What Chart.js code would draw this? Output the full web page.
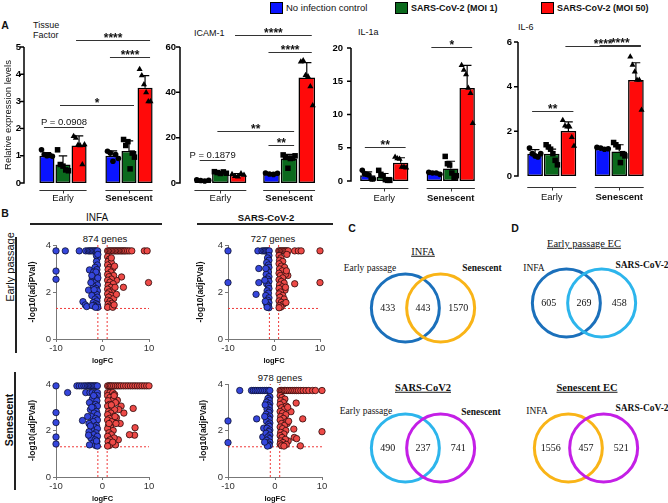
<!DOCTYPE html>
<html>
<head>
<meta charset="utf-8">
<title>SARS-CoV-2 endothelial response</title>
<script src="https://cdn.jsdelivr.net/npm/chart.js@4.4.1/dist/chart.umd.min.js"></script>
<style>
  html, body { margin: 0; padding: 0; background: #fff; }
  #fig { position: relative; width: 668px; height: 503px; overflow: hidden; font-family: "Liberation Sans", Arial, sans-serif; color: #111; }
  #fig canvas { position: absolute; }
  .t { position: absolute; white-space: nowrap; transform: translate(-50%, -50%); line-height: 1; }
  .l { transform: translate(0, -50%); }
  .b { font-weight: bold; }
  .serif { font-family: "Liberation Serif", "Times New Roman", serif; }
  .u { text-decoration: underline; }
  .rot { transform: translate(-50%, -50%) rotate(-90deg); }
  .sw { position: absolute; width: 13px; height: 12px; border: 1px solid #000; box-sizing: border-box; }
  .hl { position: absolute; background: #222; }
</style>
</head>
<body>
<div id="fig">
  <!-- panel letters -->
  <div class="t b" style="left:5px;top:25px;font-size:10.5px">A</div>
  <div class="t b" style="left:5px;top:213px;font-size:10.5px">B</div>
  <div class="t b" style="left:352px;top:228px;font-size:10.5px">C</div>
  <div class="t b" style="left:515px;top:228px;font-size:10.5px">D</div>

  <!-- A: chart titles -->
  <div class="t l" style="left:33px;top:25px;font-size:9px">Tissue</div>
  <div class="t l" style="left:33px;top:35px;font-size:9px">Factor</div>
  <div class="t l" style="left:194px;top:33px;font-size:9px">ICAM-1</div>
  <div class="t l" style="left:358px;top:32px;font-size:9px">IL-1a</div>
  <div class="t l" style="left:518px;top:27px;font-size:9px">IL-6</div>

  <!-- B: headers -->
  <div class="t" style="left:97px;top:218px;font-size:10px">INFA</div>
  <div class="hl" style="left:30px;top:223px;width:132px;height:2px"></div>
  <div class="t b" style="left:266px;top:218px;font-size:9.5px">SARS-CoV-2</div>
  <div class="hl" style="left:197px;top:223px;width:136px;height:2px"></div>
  <div class="t rot" style="left:10px;top:267px;font-size:11px">Early passage</div>
  <div class="hl" style="left:15px;top:237px;width:2px;height:116px"></div>
  <div class="t rot b" style="left:9px;top:420px;font-size:10.5px">Senescent</div>
  <div class="hl" style="left:14px;top:372px;width:2px;height:118px"></div>
  <div class="t" style="left:105px;top:239px;font-size:9.5px">874 genes</div>
  <div class="t" style="left:273px;top:239px;font-size:9.5px">727 genes</div>
  <div class="t" style="left:280px;top:378px;font-size:9.5px">978 genes</div>

  <!-- C / D: venn labels -->
  <div class="t serif u" style="left:423px;top:252px;font-size:10.5px">INFA</div>
  <div class="t serif" style="left:370px;top:269px;font-size:9.5px">Early passage</div>
  <div class="t serif b" style="left:482px;top:269px;font-size:9.5px">Senescent</div>
  <div class="t serif u" style="left:584px;top:244px;font-size:10.5px">Early passage EC</div>
  <div class="t serif" style="left:534px;top:269px;font-size:9.5px">INFA</div>
  <div class="t serif b" style="left:642px;top:266px;font-size:9.5px">SARS-CoV-2</div>
  <div class="t serif b u" style="left:423px;top:388px;font-size:10.5px">SARS-CoV2</div>
  <div class="t serif" style="left:366px;top:412px;font-size:9.5px">Early passage</div>
  <div class="t serif b" style="left:481px;top:413px;font-size:9.5px">Senescent</div>
  <div class="t serif b u" style="left:587px;top:388px;font-size:10.5px">Senescent EC</div>
  <div class="t serif" style="left:537px;top:412px;font-size:9.5px">INFA</div>
  <div class="t serif b" style="left:642px;top:409px;font-size:9.5px">SARS-CoV-2</div>
</div>

<script>
// ---------- bar panels (A) ----------
const groups = ['Early', 'Senescent'];
const seriesNames = ['No infection control', 'SARS-CoV-2 (MOI 1)', 'SARS-CoV-2 (MOI 50)'];
const seriesColors = ['#0a14ff', '#0b6a1d', '#ff0a0a'];
const seriesShapes = ['circle', 'rect', 'triangle'];
const pointSizes = [2.8, 3.9, 3.5];

// values are [series][group]
const tfMeans = [[1.0, 1.0], [0.68, 1.18], [1.38, 3.5]];
const tfSd = [[0.12, 0.18], [0.32, 0.37], [0.35, 0.45]];
const tfPoints = [
  [[1.22, 1.05, 1.0, 1.02, 0.98], [1.17, 1.1, 0.8, 1.05, 0.9]],
  [[1.22, 0.68, 0.62, 0.48, 0.45], [1.6, 1.38, 1.52, 0.52, 1.1, 0.95]],
  [[1.72, 1.65, 1.4, 1.38, 0.68, 1.42], [4.18, 3.95, 3.62, 3.33, 3.0, 3.0]]
];
// [fromSeries, fromGroup, toSeries, toGroup, height, label]
const tfSig = [[2, 0, 2, 1, 5.26, '****'], [0, 1, 2, 1, 4.63, '****'], [1, 0, 1, 1, 2.87, '*'], [0, 0, 2, 0, 2.06, 'P = 0.0908']];

const icMeans = [[1.1, 4.1], [4.6, 10.8], [3.5, 46.5]];
const icSd = [[0.3, 0.3], [0.4, 1.8], [0.6, 6.6]];
const icPoints = [
  [[1.4, 1.1, 0.9, 1.2], [4.4, 4.0, 3.8, 4.3]],
  [[5.0, 4.6, 4.2, 4.9, 4.3], [12.4, 11.3, 6.5, 10.8, 11.0, 12.0]],
  [[3.9, 3.0, 2.8, 4.2, 3.5], [53.5, 54.0, 47.5, 47.0, 42.6, 34.2]]
];
const icSig = [[2, 0, 2, 1, 65.3, '****'], [0, 1, 2, 1, 57.8, '****'], [1, 0, 1, 1, 22.9, '**'], [0, 1, 1, 1, 16.8, '**'], [0, 0, 1, 0, 10.1, 'P = 0.1879']];

const il1Means = [[0.87, 1.2], [0.63, 1.87], [2.75, 14.0]];
const il1Sd = [[0.5, 0.15], [0.5, 1.1], [0.75, 3.4]];
const il1Points = [
  [[1.6, 1.1, 1.0, 0.9, 0.3, 0.3], [1.3, 1.2, 1.2, 1.0]],
  [[1.6, 1.0, 0.8, 0.2, 0.1, 0.1], [3.7, 2.6, 2.4, 1.2, 0.5, 0.8]],
  [[3.6, 3.4, 3.3, 2.1, 2.1, 2.0], [17.4, 16.7, 16.0, 14.0, 13.2, 8.7]]
];
const il1Sig = [[0, 1, 2, 1, 20.1, '*'], [0, 0, 2, 0, 5.1, '**']];

const il6Means = [[1.0, 1.22], [1.0, 1.1], [2.02, 4.3]];
const il6Sd = [[0.18, 0.05], [0.2, 0.3], [0.4, 0.77]];
const il6Points = [
  [[1.25, 1.0, 0.9, 0.85, 1.0], [1.28, 1.25, 1.2, 1.22]],
  [[1.4, 1.3, 1.2, 1.0, 0.7, 0.5], [1.5, 1.4, 1.3, 0.6, 1.0, 0.9]],
  [[2.5, 2.25, 2.2, 2.2, 1.73, 1.34], [5.34, 4.97, 4.67, 4.3, 4.3, 2.95]]
];
const il6Sig = [[0, 0, 2, 0, 2.91, '**'], [2, 0, 2, 1, 5.82, '****'], [0, 1, 2, 1, 5.87, '****']];

// ---------- volcano panels (B): [logFC, -log10(adj p)] ----------
const fcCut = [-1, 1];
const padjCut = 1.3;

const earlyInfaDown = [[-10,3.75],[-8,3.75],[-5,3.75],[-3.6,3.75],[-3.1,3.75],[-2.8,3.75],[-2.5,3.75],[-2.2,3.75],[-1.9,3.75],[-1.6,3.75],[-1.3,3.75],[-1.05,3.75],
  [-10,2.89],[-10,2.54],[-2.8,2.94],[-3.0,2.08],[-4.2,1.59],[-3.7,1.45],[-3.4,1.38],
  [-1.1,3.45],[-1.3,3.3],[-1.1,3.15],[-1.6,3.05],[-1.2,2.95],[-1.9,2.85],[-1.1,2.75],[-1.5,2.65],[-2.2,2.55],[-1.2,2.5],[-1.7,2.4],[-1.1,2.3],[-2.0,2.25],
  [-1.4,2.15],[-1.1,2.05],[-1.8,1.95],[-1.3,1.9],[-2.3,1.85],[-1.1,1.78],[-1.6,1.7],[-1.2,1.62],[-2.0,1.55],[-1.4,1.5],[-1.1,1.45],[-1.7,1.4],[-2.2,1.42],
  [-1.3,3.55],[-1.0,3.6],[-1.4,2.85],[-1.0,2.6],[-1.8,2.1],[-1.0,1.35],[-1.5,1.35],[-2.5,2.4],[-2.3,2.7]];
const earlyInfaUp = [[1.1,3.75],[1.4,3.75],[1.7,3.75],[2.0,3.75],[2.3,3.75],[2.6,3.75],[2.9,3.75],[3.2,3.75],[3.5,3.75],[3.8,3.75],[4.1,3.75],[4.4,3.75],
  [4.7,3.75],[5.0,3.75],[5.4,3.75],[5.8,3.75],[6.3,3.75],[9.0,3.75],[9.6,3.75],
  [4.1,2.64],[4.5,2.2],[9.9,2.4],[3.0,2.5],
  [1.1,3.5],[1.5,3.4],[1.2,3.3],[1.9,3.25],[1.1,3.15],[1.6,3.05],[2.2,3.0],[1.2,2.95],[1.8,2.85],[1.1,2.75],[2.4,2.7],[1.4,2.65],[1.9,2.55],[1.1,2.5],
  [1.6,2.42],[2.3,2.35],[1.2,2.28],[1.8,2.2],[1.1,2.12],[2.1,2.05],[1.4,2.0],[1.1,1.92],[1.8,1.85],[1.3,1.78],[2.4,1.72],[1.1,1.65],[1.6,1.6],[2.0,1.52],
  [1.2,1.48],[1.5,1.4],[1.1,1.35],[2.2,1.35],[1.9,3.45],[2.6,3.1],[2.7,2.2],[3.0,1.9],[2.5,1.45]];

const earlySarsDown = [[-10,3.75],[-3.5,3.75],[-2.6,3.75],[-2.2,3.75],[-1.9,3.75],[-1.6,3.75],[-1.3,3.75],[-1.05,3.75],
  [-10,2.4],[-3.3,2.4],[-3.9,1.9],[-3.3,3.0],
  [-1.1,3.55],[-1.4,3.45],[-1.1,3.35],[-1.6,3.25],[-1.2,3.15],[-1.1,3.05],[-1.5,2.95],[-1.2,2.85],[-1.7,2.75],[-1.1,2.65],[-1.4,2.55],[-1.1,2.45],
  [-1.6,2.35],[-1.2,2.25],[-1.1,2.15],[-1.5,2.05],[-1.2,1.95],[-1.8,1.85],[-1.1,1.75],[-1.4,1.65],[-1.1,1.55],[-1.6,1.48],[-1.2,1.4],[-1.1,1.33],
  [-1.5,1.35],[-1.9,1.6],[-2.0,2.5],[-1.8,3.0]];
const earlySarsUp = [[1.05,3.75],[1.3,3.75],[1.6,3.75],[1.9,3.75],[2.2,3.75],[2.5,3.75],[2.8,3.75],[3.1,3.75],[4.5,3.75],[5.3,3.75],[5.9,3.75],[10,3.75],
  [10,2.4],[4.5,2.35],[2.8,3.6],[3.0,2.7],
  [1.1,3.55],[1.5,3.45],[1.2,3.35],[1.9,3.3],[1.1,3.2],[1.6,3.1],[2.3,3.05],[1.2,2.98],[1.8,2.9],[1.1,2.8],[2.5,2.75],[1.4,2.7],[1.9,2.6],[1.1,2.52],
  [1.6,2.45],[2.2,2.38],[1.2,2.3],[1.8,2.22],[1.1,2.15],[2.4,2.08],[1.4,2.0],[1.1,1.92],[1.9,1.85],[1.3,1.78],[2.2,1.7],[1.1,1.62],[1.6,1.56],[2.0,1.48],
  [1.2,1.42],[1.5,1.36],[1.1,1.33],[2.6,1.55],[2.7,2.9],[2.5,2.2]];

const senInfaDown = [[-10,3.92],[-5.5,3.92],[-5,3.92],[-4.5,3.92],[-4,3.92],[-3.6,3.92],[-3.2,3.92],[-2.9,3.92],[-2.6,3.92],[-2.3,3.92],[-2,3.92],[-1.7,3.92],[-1.4,3.92],[-1.1,3.92],
  [-7.5,3.63],[-3.6,3.63],[-2.7,3.63],[-2.2,3.63],[-1.5,3.63],[-1.1,3.63],
  [-10,2.77],[-10,2.34],[-10,1.72],[-10,1.42],[-4.3,2.43],
  [-1.1,3.5],[-1.6,3.42],[-2.2,3.35],[-1.2,3.28],[-2.8,3.2],[-1.5,3.12],[-1.1,3.05],[-2.0,2.98],[-2.6,2.9],[-1.3,2.82],[-1.8,2.75],[-1.1,2.68],[-2.4,2.6],
  [-1.5,2.52],[-1.1,2.45],[-2.0,2.38],[-2.9,2.3],[-1.3,2.22],[-1.7,2.15],[-1.1,2.08],[-2.3,2.0],[-2.9,1.95],[-1.4,1.9],[-1.9,1.82],[-1.1,1.75],[-2.5,1.68],
  [-1.6,1.6],[-1.2,1.52],[-2.1,1.45],[-2.8,1.38],[-1.5,1.36],[-1.1,1.33],[-2.3,3.0],[-1.9,3.5],[-2.6,2.2],[-1.3,1.55],[-3.2,2.6],[-3.0,1.8]];
const senInfaUp = [[1.1,3.92],[1.4,3.92],[1.7,3.92],[2.0,3.92],[2.4,3.92],[2.8,3.92],[3.2,3.92],[3.6,3.92],[4.0,3.92],[4.5,3.92],[5.0,3.92],[5.5,3.92],[6.0,3.92],
  [6.5,3.92],[7.0,3.92],[7.5,3.92],[8.0,3.92],[8.5,3.92],[9.0,3.92],[9.5,3.92],[10,3.92],
  [1.1,3.63],[1.6,3.63],[2.2,3.63],[2.6,3.55],
  [4.6,2.75],[4.0,3.05],[6.6,2.95],[7.0,2.12],[6.9,1.8],[5.8,1.82],[3.4,1.6],[3.0,2.55],[3.5,2.9],[3.8,2.3],[3.2,3.3],
  [1.1,3.5],[1.6,3.42],[2.3,3.35],[1.2,3.28],[2.8,3.2],[1.5,3.12],[1.1,3.05],[2.0,2.98],[2.6,2.9],[1.3,2.82],[1.8,2.75],[1.1,2.68],[2.4,2.6],[1.5,2.52],
  [1.1,2.45],[2.0,2.38],[2.9,2.3],[1.3,2.22],[1.7,2.15],[1.1,2.08],[2.3,2.0],[1.4,1.9],[1.9,1.82],[1.1,1.75],[2.5,1.68],[1.6,1.6],[1.2,1.52],[2.1,1.45],
  [2.8,1.38],[1.5,1.36],[1.1,1.33],[2.5,3.5],[1.9,3.1],[2.7,2.6],[2.2,1.5],[1.4,2.3]];

const senSarsDown = [[-7.5,3.72],[-5,3.72],[-4.6,3.72],[-4.2,3.72],[-3.8,3.72],[-3.4,3.72],[-3,3.72],[-2.6,3.72],[-2.2,3.72],[-1.8,3.72],[-1.4,3.72],[-1.1,3.72],
  [-10,2.41],[-10,1.48],[-3.9,2.5],[-2.6,1.72],[-2.4,2.1],
  [-1.1,3.45],[-1.5,3.38],[-1.2,3.3],[-1.8,3.22],[-1.1,3.15],[-1.4,3.08],[-1.2,3.0],[-1.7,2.92],[-1.1,2.85],[-1.3,2.78],[-1.9,2.7],[-1.1,2.62],[-1.5,2.55],
  [-1.2,2.48],[-1.8,2.4],[-1.1,2.32],[-1.4,2.25],[-1.2,2.18],[-1.7,2.1],[-1.1,2.02],[-1.3,1.95],[-1.9,1.88],[-1.1,1.8],[-1.5,1.72],[-1.2,1.65],[-1.8,1.58],
  [-1.1,1.5],[-1.4,1.42],[-1.2,1.36],[-1.6,1.33],[-2.2,2.6],[-2.1,3.1],[-2.2,1.5]];
const senSarsUp = [[1.1,3.72],[1.4,3.72],[1.7,3.72],[2.0,3.72],[2.3,3.72],[2.6,3.72],[3.0,3.72],[3.4,3.72],[3.8,3.72],[4.2,3.72],[4.6,3.72],[5.0,3.72],
  [5.5,3.72],[6.0,3.72],[6.6,3.72],[7.2,3.72],[8.0,3.72],[8.6,3.72],[10,3.72],
  [4.5,3.18],[3.4,2.81],[5.9,2.5],[4.0,2.06],[10,1.95],[4.1,1.7],[4.6,1.65],[5.4,1.34],[2.8,1.55],[2.6,2.3],
  [1.1,3.5],[1.5,3.42],[2.1,3.35],[1.2,3.28],[1.8,3.2],[1.1,3.12],[2.4,3.05],[1.4,2.98],[1.9,2.9],[1.1,2.82],[1.6,2.75],[2.3,2.68],[1.2,2.6],[1.8,2.52],
  [1.1,2.45],[2.5,2.38],[1.4,2.3],[2.0,2.22],[1.1,2.15],[1.6,2.08],[2.3,2.0],[1.2,1.92],[1.9,1.85],[1.1,1.78],[1.5,1.7],[2.2,1.62],[1.2,1.55],[1.7,1.48],
  [1.1,1.42],[2.4,1.4],[1.4,1.35],[1.9,1.33],[2.7,3.0],[2.9,2.4]];

// ---------- venn panels (C, D): [left only, shared, right only] ----------
const vennSets = [-0.5, 0.5];
const vennRegions = [-1, 0, 1];
const infaCounts = [433, 443, 1570];
const sarsCounts = [490, 237, 741];
const earlyEcCounts = [605, 269, 458];
const senEcCounts = [1556, 457, 521];
const blueDark = '#1b70bb', yellow = '#f9b417', lightBlue = '#2db5ec', magenta = '#c41fe6';

// ---------- helpers ----------
const fig = document.getElementById('fig');
const extras = {};
const SANS = '"Liberation Sans", Arial, sans-serif';

function addCanvas(id, box) {
  const c = document.createElement('canvas');
  c.id = id;
  c.width = box[2]; c.height = box[3];
  c.style.left = box[0] + 'px'; c.style.top = box[1] + 'px';
  c.style.width = box[2] + 'px'; c.style.height = box[3] + 'px';
  fig.appendChild(c);
  return c;
}

// legend along the top
seriesNames.forEach((name, i) => {
  const x = [270, 395, 541][i];
  const sw = document.createElement('div');
  sw.className = 'sw';
  sw.style.left = x + 'px'; sw.style.top = '2px'; sw.style.background = seriesColors[i];
  fig.appendChild(sw);
  const tx = document.createElement('div');
  tx.className = 't l' + (i > 0 ? ' b' : '');
  tx.style.left = (x + 16) + 'px'; tx.style.top = '8px';
  tx.style.fontSize = i > 0 ? '9px' : '9.5px';
  tx.textContent = name;
  fig.appendChild(tx);
});

// error bars, replicate points, offset y axis, group lines and significance brackets
const barExtras = {
  id: 'barExtras',
  afterDatasetsDraw(chart) {
    const ex = extras[chart.canvas.id];
    const ctx = chart.ctx, y = chart.scales.y;
    ctx.save();
    ctx.strokeStyle = '#000'; ctx.fillStyle = '#000'; ctx.lineWidth = 1.2;
    chart.data.datasets.forEach((ds, si) => {
      chart.getDatasetMeta(si).data.forEach((bar, gi) => {
        const yTop = y.getPixelForValue(ds.data[gi] + ex.sd[si][gi]);
        const cap = bar.width * 0.28;
        ctx.beginPath();
        ctx.moveTo(bar.x, bar.y); ctx.lineTo(bar.x, yTop);
        ctx.moveTo(bar.x - cap, yTop); ctx.lineTo(bar.x + cap, yTop);
        ctx.stroke();
        const pts = ex.pts[si][gi];
        const spread = bar.width * 0.72;
        pts.forEach((v, k) => {
          const px = bar.x - spread / 2 + spread * k / (pts.length - 1);
          Chart.helpers.drawPoint(ctx, { pointStyle: seriesShapes[si], radius: pointSizes[si], rotation: 0, borderWidth: 0 }, px, y.getPixelForValue(v));
        });
      });
    });
    ctx.restore();
  },
  afterDraw(chart) {
    const ex = extras[chart.canvas.id];
    const ctx = chart.ctx, y = chart.scales.y, area = chart.chartArea;
    const ax = area.left - ex.gap;
    ctx.save();
    // y axis, its tick marks and labels (offset from the bars, GraphPad style)
    ctx.strokeStyle = '#000'; ctx.lineWidth = 1.5;
    ctx.fillStyle = '#000'; ctx.font = 'bold 9.5px ' + SANS;
    ctx.textAlign = 'right'; ctx.textBaseline = 'middle';
    ctx.beginPath();
    ctx.moveTo(ax, y.getPixelForValue(0) + 0.75); ctx.lineTo(ax, y.getPixelForValue(y.max));
    y.ticks.forEach(t => {
      const py = y.getPixelForValue(t.value);
      ctx.moveTo(ax - 4, py); ctx.lineTo(ax, py);
      ctx.fillText(String(t.value), area.left - ex.labelPad, py);
    });
    ctx.stroke();
    // group lines under each cluster
    const first = chart.getDatasetMeta(0).data;
    const last = chart.getDatasetMeta(chart.data.datasets.length - 1).data;
    const uy = area.bottom + ex.ulOff + 0.5;
    ctx.lineWidth = 1; ctx.strokeStyle = '#333';
    ctx.beginPath();
    first.forEach((b, gi) => {
      const l = b.x - b.width / 2, r = last[gi].x + last[gi].width / 2;
      ctx.moveTo(l, uy); ctx.lineTo(r, uy);
      const m = Math.round((l + r) / 2) + 0.5;
      ctx.moveTo(m, uy); ctx.lineTo(m, uy + 3);
    });
    ctx.stroke();
    // significance brackets
    ctx.strokeStyle = '#333'; ctx.fillStyle = '#111'; ctx.textAlign = 'center'; ctx.textBaseline = 'alphabetic';
    ex.sig.forEach(([s1, g1, s2, g2, v, label]) => {
      const b1 = chart.getDatasetMeta(s1).data[g1], b2 = chart.getDatasetMeta(s2).data[g2];
      const x1 = b1.x - 3, x2 = b2.x + 5, py = Math.round(y.getPixelForValue(v)) + 0.5;
      ctx.beginPath(); ctx.moveTo(x1, py); ctx.lineTo(x2, py); ctx.stroke();
      const star = label.startsWith('*');
      ctx.font = star ? 'bold 12px ' + SANS : '9.5px ' + SANS;
      ctx.fillText(label, (x1 + x2) / 2, py + (star ? 1 : -3));
    });
    ctx.restore();
  }
};

function makeBarChart(id, box, means, sd, pts, sig, o) {
  extras[id] = { sd: sd, pts: pts, sig: sig, gap: o.gap, ulOff: o.ulOff, labelPad: o.labelPad };
  return new Chart(addCanvas(id, box), {
    type: 'bar',
    data: {
      labels: groups,
      datasets: means.map((m, si) => ({
        label: seriesNames[si],
        data: m,
        backgroundColor: seriesColors[si],
        borderColor: '#000',
        borderWidth: 1.5,
        borderSkipped: false
      }))
    },
    options: {
      responsive: false,
      animation: false,
      events: [],
      categoryPercentage: o.catPct,
      barPercentage: 0.94,
      layout: { padding: { left: 0, right: o.padR, top: o.padT, bottom: 0 } },
      plugins: { legend: { display: false }, tooltip: { enabled: false } },
      scales: {
        x: {
          grid: { display: false },
          border: { display: false },
          ticks: {
            padding: o.xPad,
            color: '#111',
            font: c => ({ family: SANS, size: 9.5, weight: c.index === 1 ? 'bold' : 'normal' })
          },
          afterFit: s => { s.height = o.xH; }
        },
        y: {
          min: 0,
          max: o.max,
          ticks: { stepSize: o.step, display: false },
          grid: { display: false },
          border: { display: false },
          title: {
            display: !!o.yTitle,
            text: o.yTitle || '',
            color: '#111',
            font: { family: SANS, size: 9.5 },
            padding: { top: 3, bottom: 0 }
          },
          afterFit: s => { s.width = o.yW; }
        }
      }
    },
    plugins: [barExtras]
  });
}

makeBarChart('tf', [0, 20, 165, 185], tfMeans, tfSd, tfPoints, tfSig,
  { max: 5, step: 1, yW: 30, padR: 3, padT: 27, xH: 22, xPad: 2, gap: 6, labelPad: 9, ulOff: 7, catPct: 0.73, yTitle: 'Relative expression levels' });
makeBarChart('icam', [165, 20, 160, 185], icMeans, icSd, icPoints, icSig,
  { max: 60, step: 20, yW: 21, padR: 1.5, padT: 27, xH: 22, xPad: 2, gap: 6, labelPad: 10, ulOff: 7, catPct: 0.77 });
makeBarChart('il1a', [330, 20, 160, 185], il1Means, il1Sd, il1Points, il1Sig,
  { max: 20, step: 5, yW: 21, padR: 6, padT: 28, xH: 24, xPad: 4, gap: 0, labelPad: 8, ulOff: 7, catPct: 0.74 });
makeBarChart('il6', [495, 10, 173, 195], il6Means, il6Sd, il6Points, il6Sig,
  { max: 6, step: 2, yW: 23, padR: 15, padT: 32, xH: 29, xPad: 8, gap: 0, labelPad: 6, ulOff: 11, catPct: 0.74 });

// ---------- volcano plots ----------
function makeVolcano(id, box, down, up, o) {
  const toXY = arr => arr.map(p => ({ x: p[0], y: p[1] }));
  const cut = { type: 'line', borderColor: '#f03a3a', borderWidth: 1, borderDash: [2, 2], pointRadius: 0, fill: false };
  return new Chart(addCanvas(id, box), {
    type: 'scatter',
    data: {
      datasets: [
        { data: toXY(up), backgroundColor: '#ee4a47', borderColor: '#2a0a0a', borderWidth: 0.8, pointRadius: 3.2, clip: false },
        { data: toXY(down), backgroundColor: '#3546dc', borderColor: '#0c1030', borderWidth: 0.8, pointRadius: 3.2, clip: false },
        Object.assign({ data: [{ x: -10, y: padjCut }, { x: 10, y: padjCut }] }, cut),
        Object.assign({ data: [{ x: fcCut[0], y: 0 }, { x: fcCut[0], y: 4 }] }, cut),
        Object.assign({ data: [{ x: fcCut[1], y: 0 }, { x: fcCut[1], y: 4 }] }, cut)
      ]
    },
    options: {
      responsive: false,
      animation: false,
      events: [],
      layout: { autoPadding: false, padding: { left: 0, right: o.padR, top: 17, bottom: 0 } },
      plugins: { legend: { display: false }, tooltip: { enabled: false } },
      scales: {
        x: {
          type: 'linear', min: -10, max: 10,
          ticks: { stepSize: 10, color: '#333', padding: 1, font: { family: SANS, size: 9.5 } },
          grid: { drawOnChartArea: false, tickLength: 3, color: '#777' },
          border: { color: '#777', width: 1 },
          title: { display: true, text: 'logFC', color: '#111', font: { family: SANS, size: 7.5, weight: 'bold' }, padding: { top: 1, bottom: 0 } },
          afterFit: s => { s.height = 26; }
        },
        y: {
          min: 0, max: 4,
          ticks: { stepSize: 2, color: '#333', padding: 2, font: { family: SANS, size: 9.5 } },
          grid: { drawOnChartArea: false, tickLength: 3, color: '#777' },
          border: { color: '#777', width: 1 },
          title: { display: true, text: '-log10(adjPVal)', color: '#111', font: { family: SANS, size: 8.5, weight: 'bold' }, padding: { top: o.titlePad, bottom: 0 } },
          afterFit: s => { s.width = 36; }
        }
      }
    }
  });
}

makeVolcano('vEarlyInfa', [20, 228, 140, 137], earlyInfaDown, earlyInfaUp, { padR: 11, titlePad: 7.5 });
makeVolcano('vEarlySars', [192, 228, 140, 137], earlySarsDown, earlySarsUp, { padR: 12, titlePad: 3.5 });
makeVolcano('vSenInfa', [20, 367, 140, 136], senInfaDown, senInfaUp, { padR: 11, titlePad: 7.5 });
makeVolcano('vSenSars', [192, 367, 140, 136], senSarsDown, senSarsUp, { padR: 10, titlePad: 6.5 });

// ---------- venn diagrams ----------
const vennCountsPlugin = {
  id: 'vennCounts',
  afterDatasetsDraw(chart) {
    const counts = extras[chart.canvas.id].counts;
    const ctx = chart.ctx, x = chart.scales.x, y = chart.scales.y;
    ctx.save();
    ctx.font = '10px "Liberation Serif", "Times New Roman", serif';
    ctx.fillStyle = '#111'; ctx.textAlign = 'center'; ctx.textBaseline = 'middle';
    counts.forEach((n, i) => ctx.fillText(String(n), x.getPixelForValue(vennRegions[i]), y.getPixelForValue(0)));
    ctx.restore();
  }
};

function makeVenn(id, box, counts, colors) {
  extras[id] = { counts: counts };
  return new Chart(addCanvas(id, box), {
    type: 'scatter',
    data: {
      datasets: [{
        data: vennSets.map(x => ({ x: x, y: 0 })),
        pointRadius: 34,
        pointBorderWidth: 3,
        pointBackgroundColor: 'rgba(0,0,0,0)',
        pointBorderColor: colors,
        clip: false
      }]
    },
    options: {
      responsive: false,
      animation: false,
      events: [],
      layout: { autoPadding: false, padding: 0 },
      plugins: { legend: { display: false }, tooltip: { enabled: false } },
      scales: {
        x: { display: false, min: -1.7, max: 1.7 },
        y: { display: false, min: -1, max: 1 }
      }
    },
    plugins: [vennCountsPlugin]
  });
}

makeVenn('vennInfa', [363, 268, 120, 80], infaCounts, [blueDark, yellow]);
makeVenn('vennEarlyEc', [524, 263, 120, 80], earlyEcCounts, [blueDark, lightBlue]);
makeVenn('vennSars', [363, 408, 120, 80], sarsCounts, [lightBlue, magenta]);
makeVenn('vennSenEc', [526, 408, 120, 80], senEcCounts, [yellow, magenta]);
</script>
</body>
</html>
